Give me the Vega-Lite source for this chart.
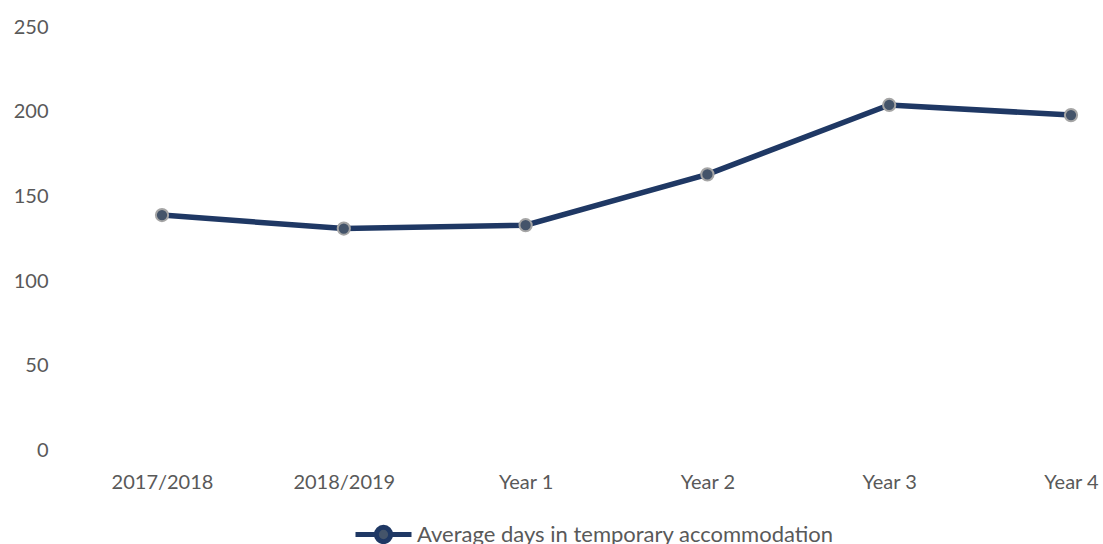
{
  "$schema": "https://vega.github.io/schema/vega-lite/v6.json",
  "width": 1043,
  "height": 423.5,
  "autosize": "none",
  "padding": {"left": 60, "top": 27, "right": 0, "bottom": 93.5},
  "background": "white",
  "config": {
    "view": {"stroke": null},
    "font": "Lato",
    "axis": {"labelFont": "Lato", "labelColor": "#595959", "labelFontSize": 20, "grid": false, "domain": false, "ticks": false, "title": null}
  },
  "data": {
    "values": [
      {"period": "2017/2018", "days": 139, "series": "Average days in temporary accommodation"},
      {"period": "2018/2019", "days": 131, "series": "Average days in temporary accommodation"},
      {"period": "Year 1", "days": 133, "series": "Average days in temporary accommodation"},
      {"period": "Year 2", "days": 163, "series": "Average days in temporary accommodation"},
      {"period": "Year 3", "days": 204, "series": "Average days in temporary accommodation"},
      {"period": "Year 4", "days": 198, "series": "Average days in temporary accommodation"}
    ]
  },
  "encoding": {
    "x": {"field": "period", "type": "ordinal", "sort": null,
          "scale": {"type": "point", "range": [102, 1011], "padding": 0},
          "axis": {"labelAngle": 0, "labelPadding": 22}},
    "y": {"field": "days", "type": "quantitative",
          "scale": {"domain": [0, 250]},
          "axis": {"values": [0, 50, 100, 150, 200, 250], "labelPadding": 12}}
  },
  "layer": [
    {
      "mark": {"type": "line", "strokeWidth": 5.5, "color": "#1F3864"},
      "encoding": {
        "color": {"field": "series", "type": "nominal",
                  "scale": {"range": ["#1F3864"]},
                  "legend": {
                    "orient": "none", "legendX": 293, "legendY": 477, "title": null, "padding": 0,
                    "symbolType": "M-1,0H-0.26M0.26,0H1M0.255,0A0.255,0.255,0,1,1,-0.255,0A0.255,0.255,0,1,1,0.255,0Z",
                    "symbolSize": 3136, "symbolStrokeWidth": 5, "symbolFillColor": "#44546A",
                    "labelFont": "Lato", "labelFontSize": 22, "labelColor": "#595959", "labelOffset": 3, "labelLimit": 0,
                    "encode": {"symbols": {"update": {"fill": {"value": "#44546A"}, "stroke": {"value": "#1F3864"}, "strokeWidth": {"value": 5}}}}
                  }}
      }
    },
    {
      "mark": {"type": "point", "filled": true, "size": 150, "fill": "#44546A", "stroke": "#A5A5A5", "strokeWidth": 2, "opacity": 1}
    }
  ]
}
